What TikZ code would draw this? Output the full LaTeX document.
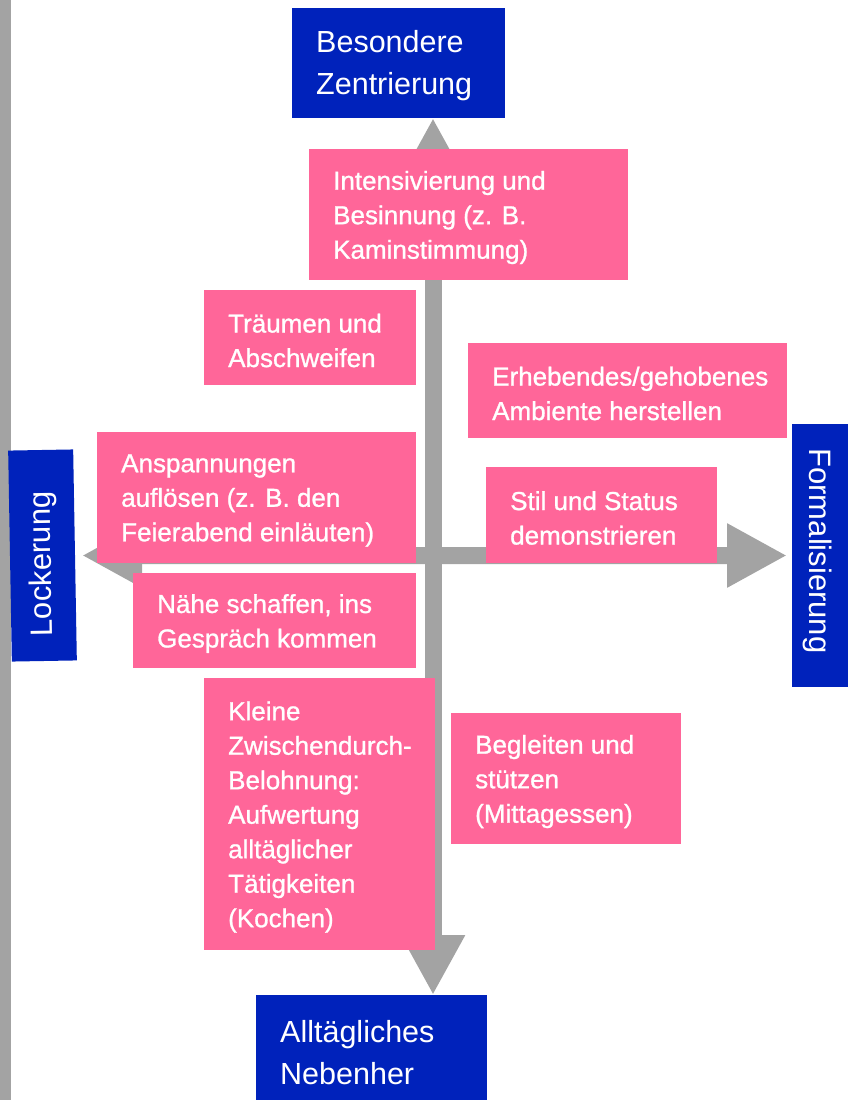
\documentclass[tikz,border=0pt]{standalone}
\usepackage{fontspec}
\setmainfont[FakeBold=1]{Liberation Sans}
\newfontfamily\boxfont{Liberation Sans}
\usetikzlibrary{arrows.meta}
\definecolor{axisgray}{HTML}{A3A3A3}
\definecolor{boxpink}{HTML}{FF6699}
\definecolor{boxblue}{HTML}{0022BB}
\tikzset{
  pinkrect/.style={fill=boxpink, draw=none, inner sep=0pt, outer sep=0pt},
  bluerect/.style={fill=boxblue, draw=none, inner sep=0pt, outer sep=0pt},
  pinktext/.style={text=white, inner sep=0pt, align=left, font=\fontsize{26}{34.5}\selectfont},
  bluetext/.style={text=white, inner sep=0pt, align=left, font=\boxfont\fontsize{30.5}{42}\selectfont},
  vtext/.style={text=white, inner sep=0pt, font=\boxfont\fontsize{31}{36}\selectfont},
  axisarrow/.style={draw=axisgray, line width=17pt,
    {Triangle[length=60pt,width=60pt]}-{Triangle[length=60pt,width=60pt]}}
}
\newcommand\pinkbox[6]{%
  \node[pinkrect, minimum width={(#4-#2)*1pt}, minimum height={(#5-#3)*1pt}]
    (#1) at ({(#2+#4)/2},{(#3+#5)/2}) {};
  \node[pinktext, anchor=west] (#1-t) at ([xshift=24pt,yshift=-3pt]#1.west) {#6};
}
\newcommand\bluebox[6]{%
  \node[bluerect, minimum width={(#4-#2)*1pt}, minimum height={(#5-#3)*1pt}]
    (#1) at ({(#2+#4)/2},{(#3+#5)/2}) {};
  \node[bluetext, anchor=west] (#1-t) at ([xshift=24pt,yshift=-3pt]#1.west) {#6};
}
\begin{document}
\begin{tikzpicture}[x=1pt,y=-1pt]
\useasboundingbox (0,0) rectangle (847,1100);
\fill[white] (0,0) rectangle (847,1100);
% left gray bar
\fill[axisgray] (0,0) rectangle (11,1100);
% blue pole boxes
\bluebox{top}{292}{8}{505}{118}{Besondere\\Zentrierung}
\bluebox{bot}{256}{995}{487}{1104}{Alltägliches\\Nebenher}
\node[bluerect, rotate=91, minimum width=211pt, minimum height=65pt] (lock) at (42.5,555.5) {};
\node[vtext, rotate=91] (lock-t) at (43,564) {Lockerung};
\node[bluerect, rotate=-90, minimum width=263pt, minimum height=56pt] (form) at (820,555.5) {};
\node[vtext, rotate=-90] (form-t) at (818,551) {Formalisierung};
% axes
\coordinate (axis) at (433,555.5);
\draw[axisarrow] (top.south -| axis) -- (bot.north -| axis);
\draw[axisarrow, shorten <=7pt, shorten >=5pt] (lock) -- (form);
% pink boxes
\pinkbox{int}{309}{149}{628}{280}{Intensivierung und\\Besinnung (z. B.\\Kaminstimmung)}
\pinkbox{trau}{204}{290}{416}{385}{Träumen und\\Abschweifen}
\pinkbox{erh}{468}{343}{787}{438}{Erhebendes/gehobenes\\Ambiente herstellen}
\pinkbox{ansp}{97}{432}{416}{563}{Anspannungen\\auflösen (z. B. den\\Feierabend einläuten)}
\pinkbox{stil}{486}{467}{717}{563}{Stil und Status\\demonstrieren}
\pinkbox{naehe}{133}{573}{416}{668}{Nähe schaffen, ins\\Gespräch kommen}
\pinkbox{klein}{204}{678}{435}{950}{Kleine\\Zwischendurch-\\Belohnung:\\Aufwertung\\alltäglicher\\Tätigkeiten\\(Kochen)}
\pinkbox{begl}{451}{713}{681}{844}{Begleiten und\\stützen\\(Mittagessen)}
\end{tikzpicture}
\end{document}
